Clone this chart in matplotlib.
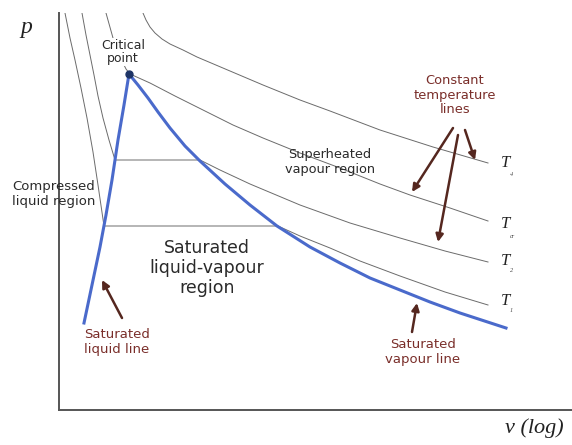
import matplotlib
matplotlib.use("Agg")
import matplotlib.pyplot as plt

# saturation dome (liquid line -> critical point -> vapour line)
v_dome = [25, 33, 41, 47, 53, 59, 65, 70, 79, 89, 99, 111, 126, 141, 166, 191, 218,
          251, 281, 311, 341, 371, 401, 447]
p_dome = [87, 125, 163, 195, 230, 270, 305, 336, 325, 312, 298, 282, 264, 249, 226, 205, 184,
          163, 147, 132, 120, 108, 97, 82]
v_crit, p_crit = 70, 336

# constant temperature lines
v_T1 = [6, 11, 16, 22, 28, 34, 39, 45, 219, 241, 271, 301, 341, 386, 429]
p_T1 = [397, 372, 350, 322, 292, 258, 225, 184, 184, 174, 162, 149, 134, 118, 105]
v_T2 = [23, 27, 31, 35, 39, 44, 50, 56, 141, 161, 191, 241, 291, 341, 386, 429]
p_T2 = [397, 375, 355, 335, 314, 292, 270, 250, 250, 240, 226, 205, 187, 172, 159, 148]
v_Tcr = [47, 54, 61, 67, 71, 91, 116, 138, 174, 204, 241, 281, 321, 351, 391, 429]
p_Tcr = [397, 372, 353, 341, 336, 327, 314, 303, 285, 272, 257, 242, 226, 215, 202, 189]
v_T4 = [84, 87, 91, 96, 103, 111, 124, 138, 171, 204, 241, 271, 321, 374, 429]
p_T4 = [397, 390, 383, 377, 371, 366, 360, 353, 339, 325, 310, 299, 280, 263, 247]

t_subs = ["4", "cr", "2", "1"]
t_label_p = [243, 182, 145, 105]
t_sub_p = [236, 174, 139, 100]

brown = "#7a2e2a"
arrow_col = "#55271f"
line_gray = "#6b6b6b"

fig = plt.figure(figsize=(5.72, 4.45), dpi=100)
ax = fig.add_axes([59 / 572, 35 / 445, 513 / 572, 397 / 445])
ax.set_xlim(0, 513)
ax.set_ylim(0, 397)
ax.set_xticks([])
ax.set_yticks([])
for s in ["top", "right"]:
    ax.spines[s].set_visible(False)
for s in ["left", "bottom"]:
    ax.spines[s].set_color("#555555")
    ax.spines[s].set_linewidth(1.4)

for vv, pp in [(v_T1, p_T1), (v_T2, p_T2), (v_Tcr, p_Tcr), (v_T4, p_T4)]:
    ax.plot(vv, pp, color=line_gray, lw=0.7, zorder=2)

ax.plot(v_dome, p_dome, color="#4a6acb", lw=2.2, zorder=3, solid_joinstyle="round")
ax.plot([v_crit], [p_crit], "o", color="#1e3466", ms=5, zorder=4)

# T labels
for sub, pl, ps in zip(t_subs, t_label_p, t_sub_p):
    ax.text(442, pl, "T", fontsize=12, family="Liberation Serif", style="italic",
            ha="left", va="baseline", color="#222222")
    ax.text(451, ps, sub, fontsize=4.5, family="Liberation Serif", style="italic",
            ha="left", va="center", color="#444444")

# axis labels
ax.text(-39, 377, "p", fontsize=17, family="Liberation Serif", style="italic",
        ha="left", va="baseline", color="#222222")
ax.text(446, -23, "v (log)", fontsize=16, family="Liberation Serif", style="italic",
        ha="left", va="baseline", color="#222222", clip_on=False)

dark = "#2a2a2a"
ax.text(64, 358, "Critical\npoint", fontsize=9, ha="center", va="center", color=dark,
        linespacing=1.05, zorder=5,
        bbox=dict(facecolor="white", edgecolor="none", pad=0.5))
ax.text(271, 248, "Superheated\nvapour region", fontsize=9.3, ha="center", va="center",
        color=dark, linespacing=1.2, zorder=5)
ax.text(-47, 216, "Compressed\nliquid region", fontsize=9.5, ha="left", va="center",
        color=dark, linespacing=1.25, zorder=5)
ax.text(148, 142, "Saturated\nliquid-vapour\nregion", fontsize=12.5, ha="center",
        va="center", color=dark, linespacing=1.15, zorder=5)

ax.text(396, 315, "Constant\ntemperature\nlines", fontsize=9.4, ha="center", va="center",
        color=brown, linespacing=1.15, zorder=5)
ax.text(58, 68, "Saturated\nliquid line", fontsize=9.5, ha="center", va="center",
        color=brown, linespacing=1.2, zorder=5)
ax.text(364, 58, "Saturated\nvapour line", fontsize=9.5, ha="center", va="center",
        color=brown, linespacing=1.2, zorder=5)

# arrows: (tail, head)
arrows = [((63, 92), (43, 130)),
          ((353, 78), (358, 107)),
          ((394, 282), (353, 218)),
          ((399, 275), (379, 168)),
          ((406, 280), (416, 250))]
for tail, head in arrows:
    ax.annotate("", xy=head, xytext=tail,
                arrowprops=dict(arrowstyle="-|>", color=arrow_col, lw=1.8,
                                mutation_scale=11, shrinkA=0, shrinkB=0))

fig.savefig("out.png", dpi=100)
